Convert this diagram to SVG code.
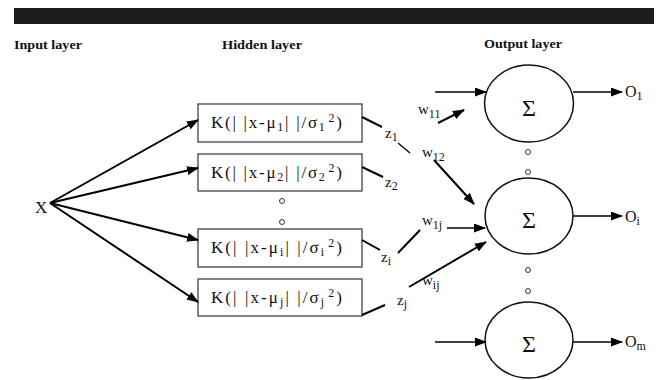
<svg xmlns="http://www.w3.org/2000/svg" width="660" height="380" viewBox="0 0 660 380">
<defs>
<marker id="ah" markerWidth="12" markerHeight="9" refX="11" refY="4.5" orient="auto" markerUnits="userSpaceOnUse"><path d="M0,0 L12,4.5 L0,9 Z" fill="#000"/></marker>
<style>
.hd{font-family:"Liberation Serif",serif;font-weight:bold;font-size:12px;fill:#111}
.t{font-family:"Liberation Serif",serif;fill:#111}
.kt{font-size:17px}
.sub{font-size:12px}
.box{fill:#fff;stroke:#333;stroke-width:1.2}
.node{fill:#fff;stroke:#111;stroke-width:1.5}
.dot{fill:#fff;stroke:#333;stroke-width:1}
.thick{stroke:#000;stroke-width:2;fill:none}
.thin{stroke:#000;stroke-width:1.3;fill:none}
.sig{font-size:24px}
</style>
</defs>
<rect width="660" height="380" fill="#fff"/>
<rect x="14" y="8" width="640" height="16" fill="#1c1c1c"/>
<text class="hd" x="14" y="49" textLength="68" lengthAdjust="spacingAndGlyphs">Input layer</text>
<text class="hd" x="222" y="49" textLength="80" lengthAdjust="spacingAndGlyphs">Hidden layer</text>
<text class="hd" x="484" y="48" textLength="78" lengthAdjust="spacingAndGlyphs">Output layer</text>

<g id="input-x"><text class="t" x="35" y="213" font-size="17">X</text></g>

<g id="hidden-1"><rect class="box" x="198" y="104" width="164" height="38"/>
<text class="t kt" x="211" y="128" textLength="131" lengthAdjust="spacing">K(| |x-μ<tspan class="sub" dy="3">1</tspan><tspan dy="-3">| |/σ</tspan><tspan class="sub" dy="3">1</tspan><tspan class="sub" dx="2" dy="-9">2</tspan><tspan dy="6">)</tspan></text></g>
<g id="hidden-2"><rect class="box" x="198" y="154" width="164" height="37"/>
<text class="t kt" x="211" y="178" textLength="131" lengthAdjust="spacing">K(| |x-μ<tspan class="sub" dy="3">2</tspan><tspan dy="-3">| |/σ</tspan><tspan class="sub" dy="3">2</tspan><tspan class="sub" dx="2" dy="-9">2</tspan><tspan dy="6">)</tspan></text></g>
<g id="hidden-i"><rect class="box" x="198" y="229" width="164" height="38"/>
<text class="t kt" x="211" y="253" textLength="131" lengthAdjust="spacing">K(| |x-μ<tspan class="sub" dy="3">i</tspan><tspan dy="-3">| |/σ</tspan><tspan class="sub" dy="3">i</tspan><tspan class="sub" dx="2" dy="-9">2</tspan><tspan dy="6">)</tspan></text></g>
<g id="hidden-j"><rect class="box" x="198" y="279" width="164" height="37"/>
<text class="t kt" x="211" y="303" textLength="131" lengthAdjust="spacing">K(| |x-μ<tspan class="sub" dy="3">j</tspan><tspan dy="-3">| |/σ</tspan><tspan class="sub" dy="3">j</tspan><tspan class="sub" dx="2" dy="-9">2</tspan><tspan dy="6">)</tspan></text></g>
<g id="hidden-dots"><circle class="dot" cx="282" cy="201" r="2.5"/><circle class="dot" cx="282" cy="222" r="2.5"/></g>

<g id="output-1"><ellipse class="node" cx="529" cy="103.5" rx="44.5" ry="38.5"/><text class="t sig" x="529" y="116" text-anchor="middle">Σ</text></g>
<g id="output-i"><ellipse class="node" cx="529" cy="216" rx="44" ry="38"/><text class="t sig" x="529" y="228" text-anchor="middle">Σ</text></g>
<g id="output-m"><ellipse class="node" cx="529" cy="340" rx="44" ry="38"/><text class="t sig" x="529" y="352" text-anchor="middle">Σ</text></g>
<g id="output-dots"><circle class="dot" cx="528" cy="152" r="2.5"/><circle class="dot" cx="528" cy="172" r="2.5"/><circle class="dot" cx="528" cy="270" r="2.5"/><circle class="dot" cx="528" cy="291" r="2.5"/></g>

<g id="connectors">
<line class="thick" x1="50" y1="203" x2="198" y2="120" marker-end="url(#ah)"/>
<line class="thick" x1="50" y1="203" x2="198" y2="168" marker-end="url(#ah)"/>
<line class="thick" x1="50" y1="203" x2="198" y2="240" marker-end="url(#ah)"/>
<line class="thick" x1="50" y1="203" x2="198" y2="302" marker-end="url(#ah)"/>
<line class="thick" x1="362" y1="117" x2="382" y2="127"/>
<line class="thin" x1="398" y1="143" x2="410" y2="153"/>
<line class="thick" x1="362" y1="167" x2="383" y2="177"/>
<line class="thick" x1="362" y1="240" x2="380" y2="250"/>
<line class="thick" x1="398" y1="253" x2="420" y2="230"/>
<line class="thick" x1="362" y1="315" x2="385" y2="305"/>
<line class="thick" x1="434" y1="160" x2="474" y2="204" marker-end="url(#ah)"/>
<line class="thick" x1="438" y1="123" x2="464" y2="110" marker-end="url(#ah)"/>
<line class="thin" x1="447" y1="228" x2="485" y2="228" marker-end="url(#ah)"/>
<line class="thick" x1="409" y1="287" x2="486" y2="242" marker-end="url(#ah)"/>
<line class="thin" x1="435" y1="92" x2="486" y2="92" marker-end="url(#ah)"/>
<line class="thin" x1="435" y1="342" x2="486" y2="342" marker-end="url(#ah)"/>
<line class="thin" x1="573" y1="92" x2="622" y2="92" marker-end="url(#ah)"/>
<line class="thin" x1="573" y1="216" x2="622" y2="216" marker-end="url(#ah)"/>
<line class="thin" x1="573" y1="342" x2="622" y2="342" marker-end="url(#ah)"/>
</g>

<g id="labels">
<text class="t" x="385" y="138" font-size="15">z<tspan class="sub" dy="3">1</tspan></text>
<text class="t" x="385" y="187" font-size="15">z<tspan class="sub" dy="3">2</tspan></text>
<text class="t" x="381" y="262" font-size="15">z<tspan class="sub" dy="3">i</tspan></text>
<text class="t" x="397" y="305" font-size="15">z<tspan class="sub" dy="3">j</tspan></text>
<text class="t" x="418" y="114" font-size="15">w<tspan class="sub" dy="4">11</tspan></text>
<text class="t" x="422" y="157" font-size="15">w<tspan class="sub" dy="4">12</tspan></text>
<text class="t" x="422" y="225" font-size="15">w<tspan class="sub" dy="4">1j</tspan></text>
<text class="t" x="422" y="285" font-size="15">w<tspan class="sub" dy="4">ij</tspan></text>
<text class="t" x="625" y="97" font-size="16">O<tspan class="sub" dy="3">1</tspan></text>
<text class="t" x="625" y="222" font-size="16">O<tspan class="sub" dy="3">i</tspan></text>
<text class="t" x="625" y="347" font-size="16">O<tspan class="sub" dy="3">m</tspan></text>
</g>
</svg>
